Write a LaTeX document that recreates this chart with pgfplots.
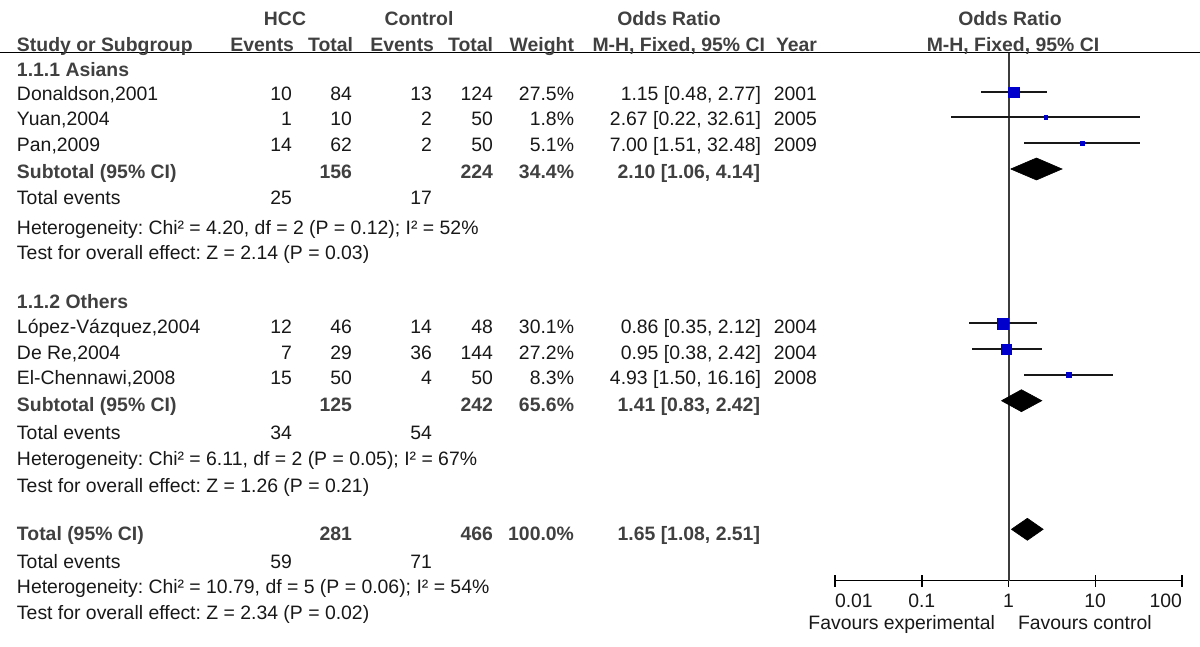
\documentclass[border=0pt]{standalone}
\usepackage{fontspec}
\setmainfont{Liberation Sans}
\usepackage{pgfplots}
\usepackage{pgfplotstable}
\pgfplotsset{compat=1.18}

\definecolor{sqblue}{RGB}{0,0,204}
\definecolor{txt}{RGB}{24,24,24}
\definecolor{hdr}{RGB}{64,64,64}
\definecolor{vline}{RGB}{60,60,60}

% study rows: odds ratio, 95% CI, row height (px from bottom), half side of square (pt)
\pgfplotstableread{
name        or    lo    hi     y      ms
Donaldson   1.15  0.48  2.77   555.0  2.6
Yuan        2.67  0.22  32.61  529.7  0.85
Pan         7.00  1.51  32.48  503.7  1.05
Lopez       0.86  0.35  2.12   323.7  2.75
DeRe        0.95  0.38  2.42   297.7  2.5
ElChennawi  4.93  1.50  16.16  272.0  1.25
}\studies

\newcommand{\fs}{\fontsize{9.7}{11}\selectfont}
\newcommand{\R}[3]{\node[anchor=base east] at (#1,#2) {#3};}
\newcommand{\Lft}[3]{\node[anchor=base west] at (#1,#2) {#3};}
\newcommand{\C}[3]{\node[anchor=base] at (#1,#2) {#3};}

\begin{document}
\frenchspacing
\fs
\begin{tikzpicture}[x=0.5pt, y=0.5pt, every node/.style={inner sep=0pt, outer sep=0pt}]
\useasboundingbox (0,0) rectangle (1200,647);

% header rule
\draw[line width=0.8pt, black] (0,594.3) -- (1200,594.3);

% ---- header
\begin{scope}[every node/.append style={text=hdr, font=\fs\bfseries}]
\C{285}{621}{HCC}
\C{419}{621}{Control}
\C{669}{621}{Odds Ratio}
\C{1010}{621}{Odds Ratio}
\Lft{17}{595.5}{Study or Subgroup}
\R{294}{595.5}{Events}
\R{353}{595.5}{Total}
\R{434}{595.5}{Events}
\R{493}{595.5}{Total}
\R{574}{595.5}{Weight}
\R{765}{595.5}{M-H, Fixed, 95\% CI}
\R{817}{595.5}{Year}
\C{1013}{595.5}{M-H, Fixed, 95\% CI}
% bold rows
\Lft{17}{570}{1.1.1 Asians}
\Lft{17}{468}{Subtotal (95\% CI)}
\R{352}{468}{156}
\R{493}{468}{224}
\R{574}{468}{34.4\%}
\R{760}{468}{2.10 [1.06, 4.14]}
\Lft{17}{338}{1.1.2 Others}
\Lft{17}{235}{Subtotal (95\% CI)}
\R{352}{235}{125}
\R{493}{235}{242}
\R{574}{235}{65.6\%}
\R{760}{235}{1.41 [0.83, 2.42]}
\Lft{17}{106}{Total (95\% CI)}
\R{352}{106}{281}
\R{493}{106}{466}
\R{574}{106}{100.0\%}
\R{760}{106}{1.65 [1.08, 2.51]}
\end{scope}

% ---- regular rows
\begin{scope}[every node/.append style={text=txt, font=\fs}]
\Lft{17}{546}{Donaldson,2001}
\R{292}{546}{10}\R{352}{546}{84}\R{432}{546}{13}\R{493}{546}{124}
\R{574}{546}{27.5\%}\R{761}{546}{1.15 [0.48, 2.77]}\R{817}{546}{2001}
\Lft{17}{521}{Yuan,2004}
\R{292}{521}{1}\R{352}{521}{10}\R{432}{521}{2}\R{493}{521}{50}
\R{574}{521}{1.8\%}\R{761}{521}{2.67 [0.22, 32.61]}\R{817}{521}{2005}
\Lft{17}{495.5}{Pan,2009}
\R{292}{495.5}{14}\R{352}{495.5}{62}\R{432}{495.5}{2}\R{493}{495.5}{50}
\R{574}{495.5}{5.1\%}\R{761}{495.5}{7.00 [1.51, 32.48]}\R{817}{495.5}{2009}
\Lft{17}{442}{Total events}\R{292}{442}{25}\R{432}{442}{17}
\Lft{17}{412}{Heterogeneity: Chi² = 4.20, df = 2 (P = 0.12); I² = 52\%}
\Lft{17}{387}{Test for overall effect: Z = 2.14 (P = 0.03)}

\Lft{17}{313}{López-Vázquez,2004}
\R{292}{313}{12}\R{352}{313}{46}\R{432}{313}{14}\R{493}{313}{48}
\R{574}{313}{30.1\%}\R{761}{313}{0.86 [0.35, 2.12]}\R{817}{313}{2004}
\Lft{17}{287.5}{De Re,2004}
\R{292}{287.5}{7}\R{352}{287.5}{29}\R{432}{287.5}{36}\R{493}{287.5}{144}
\R{574}{287.5}{27.2\%}\R{761}{287.5}{0.95 [0.38, 2.42]}\R{817}{287.5}{2004}
\Lft{17}{262}{El-Chennawi,2008}
\R{292}{262}{15}\R{352}{262}{50}\R{432}{262}{4}\R{493}{262}{50}
\R{574}{262}{8.3\%}\R{761}{262}{4.93 [1.50, 16.16]}\R{817}{262}{2008}
\Lft{17}{207}{Total events}\R{292}{207}{34}\R{432}{207}{54}
\Lft{17}{181}{Heterogeneity: Chi² = 6.11, df = 2 (P = 0.05); I² = 67\%}
\Lft{17}{154}{Test for overall effect: Z = 1.26 (P = 0.21)}

\Lft{17}{78}{Total events}\R{292}{78}{59}\R{432}{78}{71}
\Lft{17}{53}{Heterogeneity: Chi² = 10.79, df = 5 (P = 0.06); I² = 54\%}
\Lft{17}{27}{Test for overall effect: Z = 2.34 (P = 0.02)}

\R{995}{17}{Favours experimental}
\Lft{1018}{17}{Favours control}
\end{scope}

% ---- forest plot
\begin{axis}[
  at={(417.5pt,33.15pt)}, anchor=south west,
  scale only axis, width=173.5pt, height=264pt,
  xmode=log, xmin=0.01, xmax=100,
  ymin=66.3, ymax=594.3,
  axis x line=bottom, axis y line=none,
  x axis line style={-, line width=0.75pt, black},
  xtick={0.01,0.1,1,10,100},
  xticklabels={\makebox[0pt][l]{0.01},0.1,1,10,\makebox[0pt][r]{100}},
  xminorticks=false,
  tick align=center, major tick length=6pt,
  xtick style={line width=0.75pt, black},
  xticklabel style={anchor=base, yshift=-10.5pt, inner sep=0pt, text=txt, font=\fs},
  clip=false,
]
% line of no effect
\addplot[vline, line width=1pt, forget plot] coordinates {(1,66.3) (1,594.3)};
% confidence intervals
\addplot[mark=none, draw=none, forget plot,
  error bars/.cd, x dir=both, x explicit, error mark=none,
  error bar style={line width=0.8pt, draw=txt}]
  table[x=or, y=y,
        x error plus expr=\thisrow{hi}-\thisrow{or},
        x error minus expr=\thisrow{or}-\thisrow{lo}] {\studies};
% study squares
\addplot[scatter, only marks, mark=square*, forget plot,
  scatter/use mapped color={draw=sqblue, fill=sqblue},
  mark options={line width=0.2pt},
  visualization depends on={\thisrow{ms} \as \msize},
  scatter/@pre marker code/.append style={/tikz/mark size=\msize pt}]
  table[x=or, y=y] {\studies};
% pooled estimates
\addplot[fill=black, draw=black, line width=0.3pt] coordinates
  {(1.06,478) (2.10,489) (4.14,478) (2.10,467) (1.06,478)};
\addplot[fill=black, draw=black, line width=0.3pt] coordinates
  {(0.83,246.3) (1.41,257.3) (2.42,246.3) (1.41,235.3) (0.83,246.3)};
\addplot[fill=black, draw=black, line width=0.3pt] coordinates
  {(1.08,117.7) (1.65,128.7) (2.51,117.7) (1.65,106.7) (1.08,117.7)};
\end{axis}
\end{tikzpicture}
\end{document}
